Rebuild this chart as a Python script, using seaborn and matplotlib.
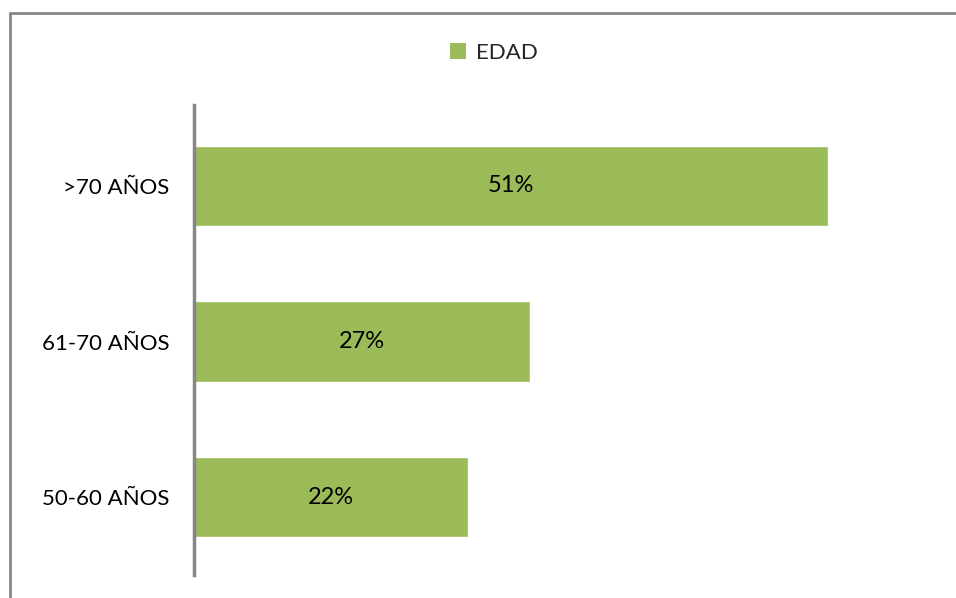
import matplotlib
matplotlib.use("Agg")
import matplotlib.pyplot as plt
import seaborn as sns
import pandas as pd
from matplotlib.patches import Patch
from matplotlib.lines import Line2D

categories = [">70 AÑOS", "61-70 AÑOS", "50-60 AÑOS"]
values = [51, 27, 22]
labels = ["51%", "27%", "22%"]
series_name = "EDAD"

sns.set_theme(style="white")
plt.rcParams['font.family'] = ['Lato', 'DejaVu Sans']

GREEN = "#9BBB59"
GRAY = "#868686"

df = pd.DataFrame({"cat": categories, "val": values})

fig = plt.figure(figsize=(9.56, 5.98), dpi=100)
W, H = 956, 598
ax = fig.add_axes([194 / W, 1 - 575 / H, (940 - 194) / W, (575 - 105) / H])

sns.barplot(data=df, y="cat", x="val", order=categories, color=GREEN,
            width=0.515, saturation=1, ax=ax, orient="h")

ax.set_xlim(0, 60)
ax.set_ylim(2.50, -0.52)
ax.set_xlabel("")
ax.set_ylabel("")
ax.set_xticks([])
for s in ["top", "right", "bottom"]:
    ax.spines[s].set_visible(False)
ax.spines["left"].set_color(GRAY)
ax.spines["left"].set_linewidth(2.5)
ax.tick_params(axis="y", length=0, pad=18, labelsize=16, colors="black")
ax.set_facecolor("white")

for p, lab in zip(ax.patches, labels):
    ax.text(p.get_width() / 2, p.get_y() + p.get_height() / 2, lab,
            ha="center", va="center", fontsize=17, color="black")

fig.legend(handles=[Patch(facecolor=GREEN, edgecolor="none")], labels=[series_name],
           loc="center", bbox_to_anchor=(494 / W, 1 - 53 / H), frameon=False,
           fontsize=16, handlelength=0.75, handleheight=0.75, handletextpad=0.45)

# outer chart border (top and left visible)
fig.add_artist(Line2D([9.5 / W, 9.5 / W], [0, 1 - 12.5 / H], transform=fig.transFigure,
                      color=GRAY, linewidth=2))
fig.add_artist(Line2D([9.5 / W, 1], [1 - 12.5 / H, 1 - 12.5 / H], transform=fig.transFigure,
                      color=GRAY, linewidth=2))

fig.savefig("out.png", dpi=100, facecolor="white")
